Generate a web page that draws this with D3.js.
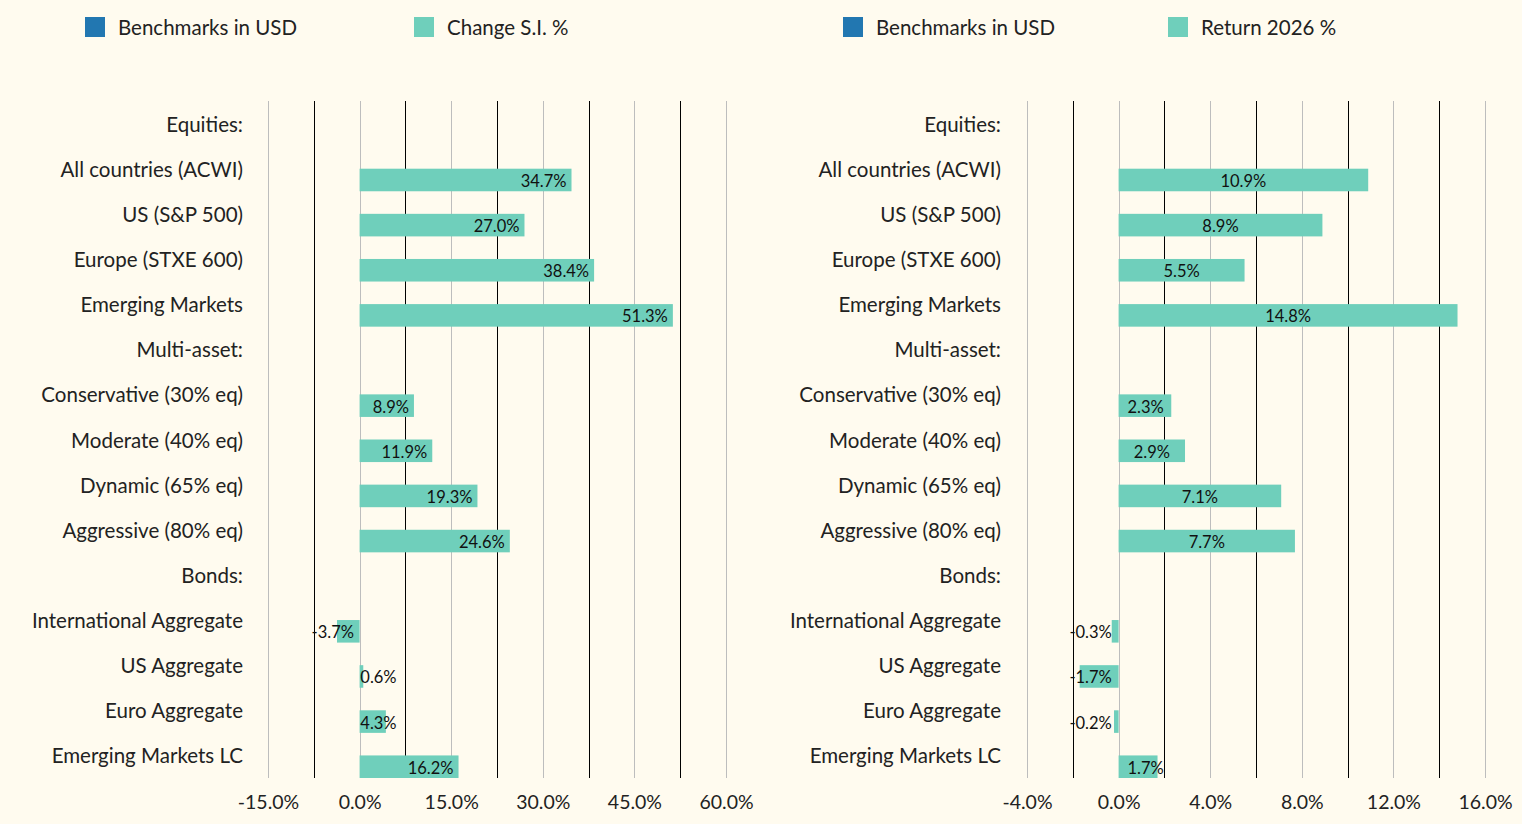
<!DOCTYPE html>
<html>
<head>
<meta charset="utf-8">
<script src="https://cdn.jsdelivr.net/npm/d3@7"></script>
<style>
  html, body { margin: 0; padding: 0; background: #fffbef; }
  svg { display: block; font-family: Lato, "Noto Sans", sans-serif; }
</style>
</head>
<body>
<div id="chart"></div>
<script>
// categories (same for both panels)
const rows = [
  "Equities:", "All countries (ACWI)", "US (S&P 500)", "Europe (STXE 600)", "Emerging Markets",
  "Multi-asset:", "Conservative (30% eq)", "Moderate (40% eq)", "Dynamic (65% eq)", "Aggressive (80% eq)",
  "Bonds:", "International Aggregate", "US Aggregate", "Euro Aggregate", "Emerging Markets LC"
];
// series values (null = header row)
const changeSI = [null, 34.7, 27.0, 38.4, 51.3, null, 8.9, 11.9, 19.3, 24.6, null, -3.7, 0.6, 4.3, 16.2];
const return2026 = [null, 10.9, 8.9, 5.5, 14.8, null, 2.3, 2.9, 7.1, 7.7, null, -0.3, -1.7, -0.2, 1.7];
const benchmarks = rows.map(() => null); // legend-only series, no bars drawn

const ticksLeft = [-15, 0, 15, 30, 45, 60];
const ticksRight = [-4, 0, 4, 8, 12, 16];

const W = 1522, H = 824;
const teal = "#6fcfbb", blue = "#2277b1";
const pct = v => v.toFixed(1) + "%"; // plain hyphen for negatives

const svg = d3.select("#chart").append("svg").attr("width", W).attr("height", H);

const y = d3.scaleBand().domain(rows).range([101, 778]).padding(0);
const sub = d3.scaleBand().domain(["Benchmarks in USD", "value"]).range([0, y.bandwidth()]).padding(0);

function panel(opts) {
  const g = svg.append("g");
  const x = d3.scaleLinear().domain(opts.domain).range(opts.range);
  const step = opts.ticks[1] - opts.ticks[0];
  const mids = opts.ticks.slice(0, -1).map(t => t + step / 2);

  // gridlines: grey at ticks, black at midpoints
  g.selectAll(".gt").data(opts.ticks).join("line")
    .attr("x1", d => Math.round(x(d)) + 0.5).attr("x2", d => Math.round(x(d)) + 0.5)
    .attr("y1", y.range()[0]).attr("y2", y.range()[1])
    .attr("stroke", "#bdbdbd").attr("stroke-width", 1);
  g.selectAll(".gm").data(mids).join("line")
    .attr("x1", d => Math.round(x(d)) + 0.5).attr("x2", d => Math.round(x(d)) + 0.5)
    .attr("y1", y.range()[0]).attr("y2", y.range()[1])
    .attr("stroke", "#000").attr("stroke-width", 1);

  // axis labels
  const axis = d3.axisBottom(x).tickValues(opts.ticks).tickFormat(pct).tickSize(0).tickPadding(0);
  const ax = g.append("g").attr("transform", "translate(0,795)").call(axis);
  ax.select(".domain").remove();
  ax.selectAll("text").attr("font-size", 19.5).attr("fill", "#222").attr("font-family", "Lato, 'Noto Sans', sans-serif");

  // category labels
  g.selectAll(".cat").data(rows).join("text")
    .attr("x", opts.labelX).attr("y", d => y(d) + y.bandwidth() / 2)
    .attr("text-anchor", "end").attr("dominant-baseline", "central")
    .attr("font-size", 20.5).attr("fill", "#222").text(d => d);

  const data = rows.map((r, i) => ({ r, v: opts.values[i], b: benchmarks[i] })).filter(d => d.v != null);
  const x0 = x(0);

  g.selectAll(".bar").data(data).join("rect")
    .attr("x", d => Math.min(x0, x(d.v)))
    .attr("width", d => Math.abs(x(d.v) - x0))
    .attr("y", d => y(d.r) + sub("value"))
    .attr("height", sub.bandwidth())
    .attr("fill", teal);

  g.selectAll(".val").data(data).join("text")
    .attr("y", d => y(d.r) + sub("value") + sub.bandwidth() / 2 + 1)
    .attr("dominant-baseline", "central")
    .attr("font-size", 16.5).attr("fill", "#111")
    .each(function (d) { opts.place(d3.select(this), d, x); })
    .text(d => pct(d.v));

  // legend
  const leg = g.append("g");
  opts.legend.forEach(l => {
    leg.append("rect").attr("x", l.x).attr("y", 17).attr("width", 20).attr("height", 20).attr("fill", l.color);
    leg.append("text").attr("x", l.x + 33).attr("y", 27).attr("dominant-baseline", "central")
      .attr("font-size", 20.5).attr("fill", "#222").text(l.name);
  });
}

panel({
  domain: [-15, 60], range: [268, 726], ticks: ticksLeft, values: changeSI, labelX: 243,
  legend: [{ name: "Benchmarks in USD", color: blue, x: 85 }, { name: "Change S.I. %", color: teal, x: 414 }],
  place: (sel, d, x) => {
    const x0 = x(0);
    if (d.v >= 0) sel.attr("text-anchor", "end").attr("x", Math.max(x(d.v) - 5, x0 + 37));
    else sel.attr("text-anchor", "start").attr("x", Math.min(x(d.v) + 5, x0 - 48));
  }
});

panel({
  domain: [-4, 16], range: [1027, 1485], ticks: ticksRight, values: return2026, labelX: 1001,
  legend: [{ name: "Benchmarks in USD", color: blue, x: 843 }, { name: "Return 2026 %", color: teal, x: 1168 }],
  place: (sel, d, x) => {
    const x0 = x(0), c = (x0 + x(d.v)) / 2;
    sel.attr("text-anchor", "middle").attr("x", d.v >= 0 ? Math.max(c, x0 + 27) : Math.min(c, x0 - 28));
  }
});
</script>
</body>
</html>
